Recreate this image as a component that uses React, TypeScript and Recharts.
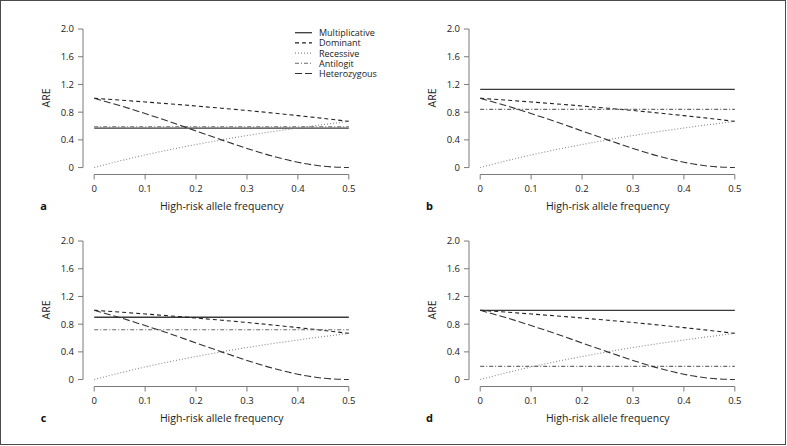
import React from 'react';
import { LineChart, Line, XAxis, YAxis, ReferenceLine } from 'recharts';

// high-risk allele frequency (x)
const freq = [0, 0.05, 0.1, 0.15, 0.2, 0.25, 0.3, 0.35, 0.4, 0.45, 0.5];

// curves shared by all four panels
const dominant = [1.0, 0.974, 0.947, 0.919, 0.889, 0.857, 0.824, 0.788, 0.75, 0.71, 0.667];
const recessive = [0, 0.095, 0.182, 0.261, 0.333, 0.4, 0.462, 0.519, 0.571, 0.621, 0.667];
const heterozygous = [1.0, 0.895, 0.78, 0.658, 0.529, 0.4, 0.276, 0.165, 0.077, 0.02, 0];

// flat lines, one value per panel
const panelLetters = ['a', 'b', 'c', 'd'];
const multiplicativeByPanel = [0.57, 1.13, 0.9, 1.0];
const antilogitByPanel = [0.59, 0.84, 0.72, 0.19];

const xTicks = [0, 0.1, 0.2, 0.3, 0.4, 0.5];
const yTicks = [0, 0.4, 0.8, 1.2, 1.6, 2.0];

const seriesStyles = [
    { key: 'multiplicative', name: 'Multiplicative', stroke: '#3a3a3a', dash: undefined, width: 1.3 },
    { key: 'dominant', name: 'Dominant', stroke: '#222222', dash: '4 3', width: 1.1 },
    { key: 'recessive', name: 'Recessive', stroke: '#8a8a8a', dash: '1 2', width: 1.1 },
    { key: 'antilogit', name: 'Antilogit', stroke: '#6a6a6a', dash: '4 2 1 2', width: 1.1 },
    { key: 'heterozygous', name: 'Heterozygous', stroke: '#333333', dash: '7 3', width: 1.1 },
];

const panelPos = [
    { left: 0, top: 0 },
    { left: 386, top: 0 },
    { left: 0, top: 212 },
    { left: 386, top: 212 },
];

const AXIS = '#7a7a7a';
const TEXT = '#222222';
const fmt = (v: number) => (v === 0 ? '0' : v.toFixed(1));

function buildRows(panel: number) {
    return freq.map((p, i) => ({
        p,
        multiplicative: multiplicativeByPanel[panel],
        dominant: dominant[i],
        recessive: recessive[i],
        antilogit: antilogitByPanel[panel],
        heterozygous: heterozygous[i],
    }));
}

function LegendBox() {
    return (
        <g>
            {seriesStyles.map((s, i) => {
                const y = 32.7 + i * 10.2;
                return (
                    <g key={s.key}>
                        <line x1={295} x2={312} y1={y} y2={y} stroke={s.stroke} strokeWidth={s.width} strokeDasharray={s.dash} />
                        <text x={319} y={y} dominantBaseline="central" fontSize={9} fill={TEXT}>
                            {s.name}
                        </text>
                    </g>
                );
            })}
        </g>
    );
}

function Panel({ index }: { index: number }) {
    const data = buildRows(index);
    return (
        <div style={{ position: 'absolute', ...panelPos[index] }}>
            <LineChart width={386} height={222} data={data} margin={{ top: 23.5, right: 27, left: 43, bottom: 17.5 }}>
                <XAxis
                    dataKey="p"
                    type="number"
                    domain={[-0.022, 0.52]}
                    ticks={xTicks}
                    tickFormatter={fmt}
                    axisLine={false}
                    tickLine={{ stroke: AXIS }}
                    tickSize={5}
                    tickMargin={6}
                    height={30}
                    tick={{ fill: TEXT, fontSize: 9.5 }}
                />
                <YAxis
                    type="number"
                    domain={[-0.1, 2.08]}
                    ticks={yTicks}
                    tickFormatter={fmt}
                    axisLine={false}
                    tickLine={{ stroke: AXIS }}
                    tickSize={5}
                    tickMargin={4}
                    width={40}
                    tick={{ fill: TEXT, fontSize: 9.5 }}
                />
                <ReferenceLine segment={[{ x: -0.022, y: 0 }, { x: -0.022, y: 2 }]} stroke={AXIS} />
                <ReferenceLine segment={[{ x: 0, y: -0.1 }, { x: 0.5, y: -0.1 }]} stroke={AXIS} />
                {seriesStyles.map((s) => (
                    <Line
                        key={s.key}
                        dataKey={s.key}
                        name={s.name}
                        type="monotone"
                        stroke={s.stroke}
                        strokeWidth={s.width}
                        strokeDasharray={s.dash}
                        dot={false}
                        activeDot={false}
                        isAnimationActive={false}
                    />
                ))}
                <text transform="translate(46,98) rotate(-90)" textAnchor="middle" dominantBaseline="central" fontSize={10.5} fill={TEXT}>
                    ARE
                </text>
                <text x={221.7} y={205.5} textAnchor="middle" dominantBaseline="central" fontSize={10.5} fill={TEXT}>
                    High-risk allele frequency
                </text>
                <text x={43.5} y={205.5} textAnchor="middle" dominantBaseline="central" fontSize={11} fontWeight="bold" fill="#111">
                    {panelLetters[index]}
                </text>
                {index === 0 ? <LegendBox /> : null}
            </LineChart>
        </div>
    );
}

export default function App() {
    return (
        <div
            style={{
                position: 'absolute',
                left: 0,
                top: 0,
                width: 787,
                height: 446,
                background: '#fff',
                fontFamily: "'Open Sans', sans-serif",
            }}
        >
            <div
                style={{
                    position: 'absolute',
                    left: 0,
                    top: 0,
                    width: 786,
                    height: 445,
                    border: '1.5px solid #4a4a4a',
                    boxSizing: 'border-box',
                }}
            />
            {panelLetters.map((_, i) => (
                <Panel key={i} index={i} />
            ))}
        </div>
    );
}
